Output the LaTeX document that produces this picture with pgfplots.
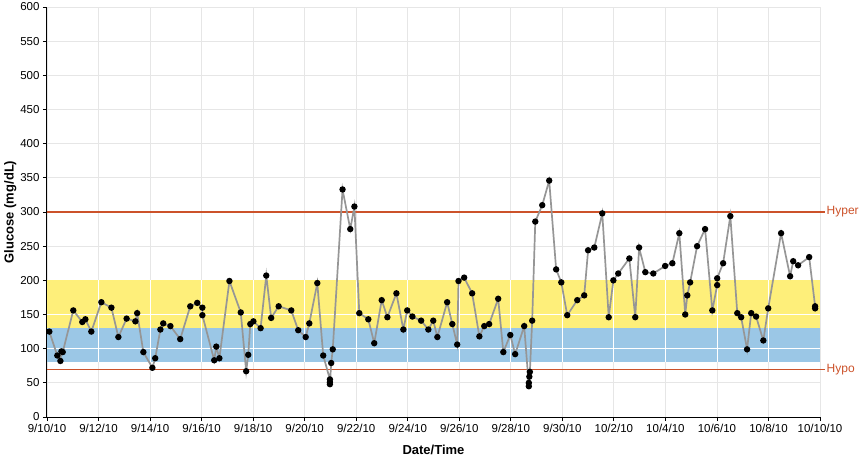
\documentclass[border=0pt]{standalone}
\usepackage{pgfplots}
\pgfplotsset{compat=1.18}
\usepackage{fontspec}
\setmainfont{Liberation Sans}
\definecolor{bandY}{RGB}{254,239,122}
\definecolor{bandB}{RGB}{155,199,230}
\definecolor{limit}{RGB}{204,82,42}
\definecolor{gridc}{RGB}{230,230,230}
\definecolor{linec}{RGB}{150,150,150}
\begin{document}
\begin{tikzpicture}
\begin{axis}[
    scale only axis,
    width=773pt, height=410pt,
    xmin=0, xmax=30, ymin=0, ymax=600,
    xtick={0,2,...,30},
    xticklabels={9/10/10,9/12/10,9/14/10,9/16/10,9/18/10,9/20/10,9/22/10,9/24/10,9/26/10,9/28/10,9/30/10,10/2/10,10/4/10,10/6/10,10/8/10,10/10/10},
    ytick={0,50,...,600},
    axis x line*=bottom, axis y line*=left,
    tick align=outside, tick style={black, line width=0.8pt},
    major tick length=4pt,
    axis line style={black, line width=1pt, -},
    grid=major, major grid style={gridc, line width=0.8pt},
    ticklabel style={font=\fontsize{11.5}{12}\selectfont},
    /pgf/number format/assume math mode=true,
    xlabel={Date/Time}, ylabel={Glucose (mg/dL)},
    label style={font=\fontsize{13}{14}\selectfont\bfseries},
    xlabel style={yshift=-5pt},
    ylabel style={yshift=-3pt},
    clip=false,
]
% target ranges
\fill[bandY] (axis cs:0,130) rectangle (axis cs:30,200);
\fill[bandB] (axis cs:0,80) rectangle (axis cs:30,130);
\pgfplotsinvokeforeach{2,4,...,28}{\draw[white, line width=0.8pt] (axis cs:#1,80) -- (axis cs:#1,200);}
\draw[white, line width=0.8pt] (axis cs:0,100) -- (axis cs:30,100);
\draw[white, line width=0.8pt] (axis cs:0,150) -- (axis cs:30,150);
% limits
\draw[limit, line width=1.2pt] (axis cs:0,300) -- ([xshift=5pt]axis cs:30,300);
\draw[limit, line width=1.2pt] (axis cs:0,70) -- ([xshift=5pt]axis cs:30,70);
\node[anchor=west, text=limit, font=\fontsize{12}{13}\selectfont, inner sep=1.5pt] at ([xshift=5pt]axis cs:30,300) {Hyper};
\node[anchor=west, text=limit, font=\fontsize{12}{13}\selectfont, inner sep=1.5pt] at ([xshift=5pt]axis cs:30,70) {Hypo};
\addplot[linec, line width=1.7pt, mark=*, mark size=2.3pt, mark options={black, fill=black}] coordinates {
(0.09,125)(0.40,90)(0.52,82)(0.56,96)(0.61,95)(1.02,156)(1.37,139)(1.49,143)(1.72,125)(2.11,168)(2.50,160)(2.77,117)(3.09,144)(3.43,140)(3.50,152)(3.74,95)(4.09,72)(4.20,86)(4.40,128)(4.51,137)(4.79,133)(5.17,114)(5.56,162)(5.83,167)(6.03,160)(6.03,149)(6.49,83)(6.57,103)(6.69,86)(7.08,199)(7.52,153)(7.73,67)(7.81,91)(7.89,136)(8.01,140)(8.29,130)(8.51,207)(8.70,145)(8.99,162)(9.48,156)(9.75,127)(10.04,117)(10.18,137)(10.49,196)(10.72,90)(10.98,55)(10.98,51)(10.98,48)(11.03,79)(11.09,99)(11.47,333)(11.77,275)(11.93,308)(12.12,152)(12.47,143)(12.70,108)(12.99,171)(13.21,146)(13.56,181)(13.83,128)(13.98,156)(14.18,147)(14.52,141)(14.80,128)(14.99,141)(15.15,117)(15.53,168)(15.73,136)(15.92,106)(15.97,199)(16.19,204)(16.50,181)(16.78,118)(16.97,133)(17.16,136)(17.51,173)(17.71,95)(17.98,120)(18.17,92)(18.52,133)(18.70,45)(18.70,50)(18.72,59)(18.74,66)(18.83,141)(18.95,286)(19.22,310)(19.49,346)(19.76,216)(19.96,197)(20.19,149)(20.58,171)(20.85,178)(21.00,244)(21.24,248)(21.55,298)(21.80,146)(21.98,200)(22.17,210)(22.60,232)(22.83,146)(22.98,248)(23.22,212)(23.53,210)(23.99,221)(24.27,225)(24.54,269)(24.77,150)(24.85,178)(24.96,197)(25.23,250)(25.54,275)(25.82,156)(26.01,193)(26.01,203)(26.24,225)(26.52,294)(26.79,152)(26.94,146)(27.17,99)(27.33,152)(27.52,147)(27.80,112)(27.99,159)(28.49,269)(28.84,206)(28.96,228)(29.15,222)(29.58,234)(29.81,162)(29.81,159)
};
\end{axis}
\pgfresetboundingbox
\path[use as bounding box] (-47pt,-44pt) rectangle (818pt,417pt);
\end{tikzpicture}
\end{document}
